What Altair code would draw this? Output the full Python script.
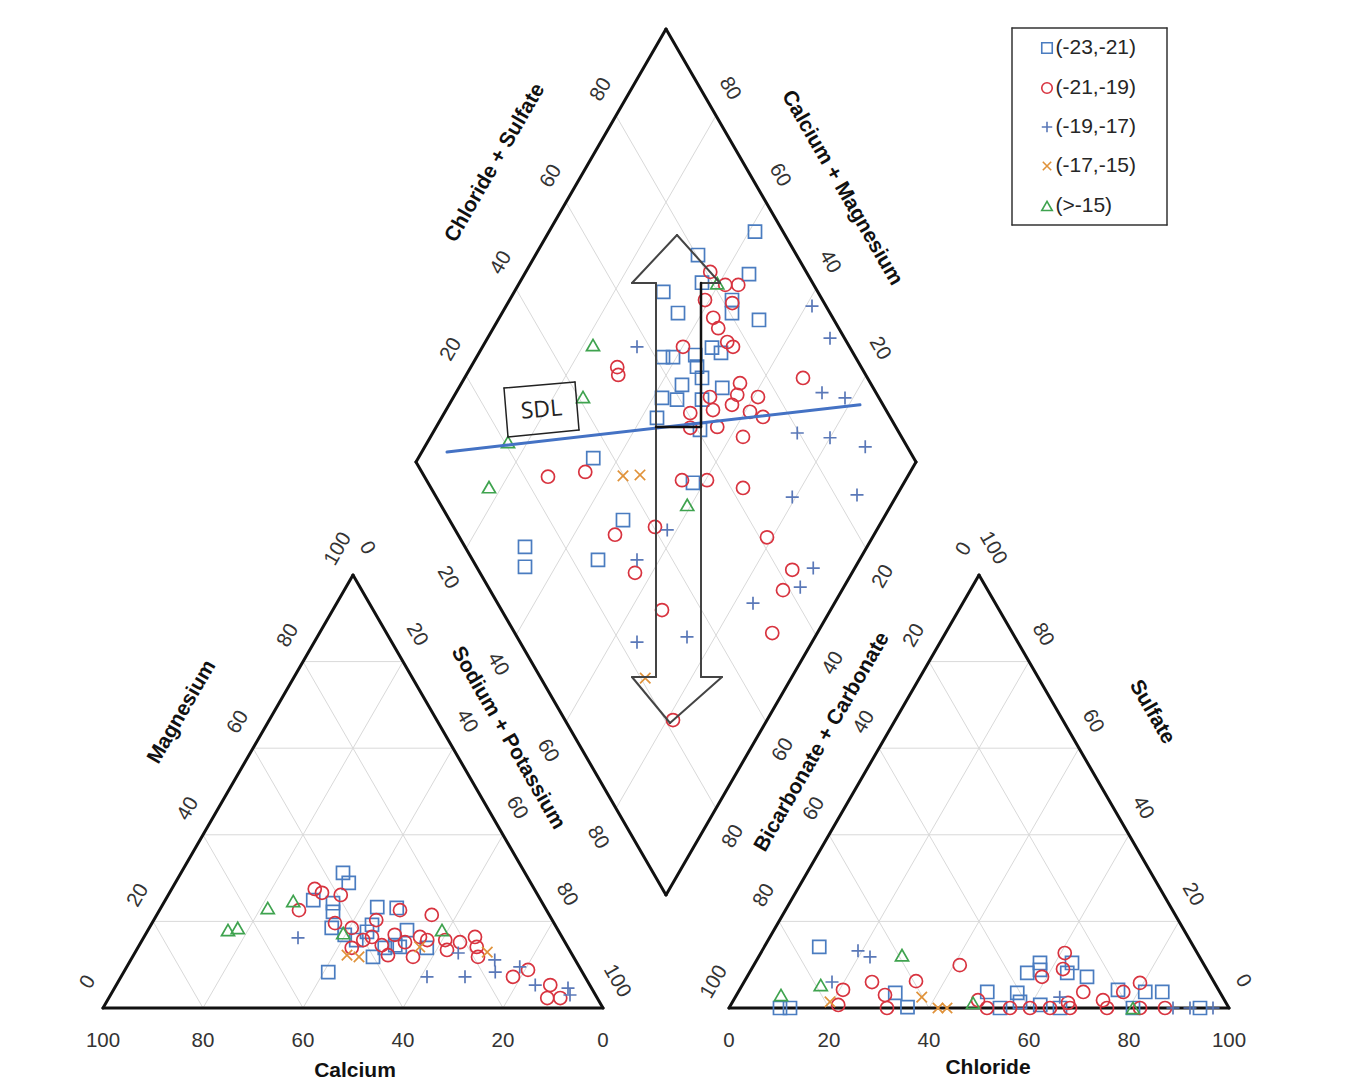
import altair as alt
import numpy as np
import pandas as pd

# ---------------- data (percent values) ----------------
GROUPS = ["(-23,-21)", "(-21,-19)", "(-19,-17)", "(-17,-15)", "(>-15)"]
COLORS = ["#4a7cc0", "#d8333f", "#5a78b8", "#e0923a", "#3fa34f"]
PLUS_PATH = "M-1,0L1,0M0,-1L0,1"
X_PATH = "M-0.8,-0.8L0.8,0.8M-0.8,0.8L0.8,-0.8"
SHAPES = ["square", "circle", PLUS_PATH, X_PATH, "triangle-up"]

# cation triangle: (Calcium %, Magnesium %)
cat_sq = [(36.4, 31.2), (36.4, 28.9), (45.5, 24.9), (41.9, 24.2), (42.9, 22.2), (45, 18.5),
          (33.5, 23.3), (36.6, 19.2), (29.7, 23.1), (50.8, 8.3), (40.1, 11.8), (38.4, 17.6),
          (30.2, 18), (33.6, 14.1), (28.3, 13.9), (34.3, 14.5), (41.5, 15.7), (36.7, 13.9),
          (43.2, 16.9)]
cat_ci = [(49.5, 22.6), (43.9, 27.5), (42.9, 26.6), (39.4, 26.1), (43.8, 19.6), (41, 18.5),
          (35.2, 20.3), (40.1, 15.7), (36.9, 12.2), (43.3, 13.9), (29.3, 22.6), (23.5, 21.5),
          (32.1, 11.8), (33.2, 16.9), (28.4, 16.4), (27.3, 15.7), (23.7, 15.7), (24.5, 13.4),
          (21, 15.2), (17.4, 16.4), (18.2, 14.1), (19.1, 11.8), (14.4, 7.2), (10.6, 8.8),
          (7.9, 5.3), (10, 2.3), (7.4, 2.3), (38, 16.4), (32, 15.2), (37, 14.5)]
cat_pl = [(52.9, 16.2), (31.6, 7.2), (24, 7.2), (16.1, 11.1), (17.4, 8.3), (11.9, 9.5),
          (10.9, 5.3), (4.7, 4.6), (5.1, 3), (22.6, 12.7)]
cat_x = [(45.1, 12.2), (42.9, 11.8), (16.7, 12.9), (29.6, 14.1)]
cat_tr = [(66, 18), (63.8, 18.5), (55.5, 23.1), (49.6, 24.7), (43.3, 17.3), (23.2, 18)]

# anion triangle: (Chloride %, Sulfate %)
an_sq = [(11, 14.1), (10.2, 0), (12.2, 0), (31.5, 3.5), (35.6, 0.2), (55.6, 8.1), (57, 10.4),
         (57.8, 8.8), (63.4, 10.4), (63.6, 8.1), (68, 7.2), (49.8, 3.7), (55.9, 3.5),
         (75.7, 4.2), (81.4, 3.7), (84.8, 3.7), (57.5, 1.4), (61.9, 0.7), (80.8, 0),
         (94.2, 0), (54.2, 0), (66.2, 0)]
an_ci = [(20.7, 4.2), (25.6, 6), (34.3, 6.2), (41.2, 9.9), (21.5, 0.7), (29.7, 3), (31.6, 0),
         (60.8, 12.7), (62.3, 9), (59, 7.2), (79.3, 5.8), (77, 3.7), (69, 3.7), (48.9, 1.8),
         (51.6, 0), (56.2, 0), (60.2, 0), (64.2, 0), (67.2, 1.2), (68.2, 0), (73.9, 1.8),
         (75.6, 0), (82.2, 0), (87.2, 0)]
an_pl = [(19.2, 13.2), (22.3, 11.8), (17.6, 6), (88.8, 0), (92.2, 0), (96.8, 0), (64.9, 2.5)]
an_x = [(19.5, 1.4), (37.3, 2.5), (43.6, 0), (41.8, 0)]
an_tr = [(28.5, 12.2), (8.9, 3), (15.7, 5.3), (48.2, 1.2), (80.8, 0)]

# diamond: (Sodium+Potassium %, Chloride+Sulfate %)
dm_sq = [(41.2, 94.4), (32.5, 80.3), (44.9, 88.3), (29.8, 69.1), (36.5, 77.9), (44.5, 81.9),
         (35.2, 69.6), (46, 80.4), (52.2, 85), (46, 72.4), (48.4, 73.6), (39.3, 63.5),
         (43.5, 68.2), (45.2, 67.2), (47.5, 66.9), (44.3, 62.1), (52.7, 69.8), (41.8, 56.6),
         (45, 59.4), (50, 64.4), (43.1, 53.3), (53.1, 60.5), (57.8, 53), (37.3, 61.5),
         (35, 35.9), (31.6, 12), (33.9, 9.7), (47.7, 25.1), (48.1, 34.7)]
dm_ci = [(36.9, 80.8), (41.4, 82.3), (44, 84.9), (39.1, 76.5), (44.9, 81.6), (42.8, 76.1),
         (45, 75.9), (48.4, 76.1), (50.1, 76.7), (40.1, 66.7), (55.7, 73.9), (56.5, 72),
         (60.9, 75.9), (51.3, 66.3), (56.6, 69.8), (53.4, 65.4), (61, 72.6), (64.2, 74.6),
         (49.2, 60.5), (56.2, 64.3), (50.9, 58.8), (62.5, 68.3), (67.7, 87.1), (55.3, 51.1),
         (60.3, 56.1), (68.4, 62.4), (29.3, 51.2), (30.4, 50.5), (28.1, 24.7), (35, 32.7),
         (48.2, 31.4), (55.3, 40.3), (56.6, 31), (66.3, 32.1), (81.2, 21.6), (78.9, 61.5),
         (87.7, 62.8), (88.2, 58.6), (91, 51.5)]
dm_pl = [(61.2, 97.2), (68.5, 97.1), (73.2, 89.2), (78.4, 93.2), (72.9, 79.6), (80, 85.6),
         (88.1, 91.6), (79.3, 71.2), (92, 84.4), (30.9, 57.5), (55.5, 32.9), (65, 23.4),
         (58.1, 42.4), (91.7, 67.2), (91.3, 62.4), (83.7, 51.1), (74.4, 34)]
dm_x = [(43, 39.8), (46.3, 43.3), (70.8, 20.9)]
dm_tr = [(21.9, 48.9), (25.9, 40.9), (16.1, 20.7), (17.5, 11.7), (39.6, 80.9), (59.2, 49.3)]

TICKS = [0, 20, 40, 60, 80, 100]
DTICKS = [20, 40, 60, 80]

# SDL line end points in diamond coordinates (Na+K %, Cl+SO4 %)
SDL_LINE = [(5.05, 7.35), (82.2, 95.4)]

# ---------------- geometry ----------------
S3 = np.sqrt(3) / 2
GAP = 25.2
AX0 = 100 + GAP
BX, BY = 100 + GAP / 2, 22.6
LX, LY = BX - 50, BY + 100 * S3


def cat_xy(ca, mg):
    return 100 - ca - mg / 2, mg * S3


def an_xy(cl, so4):
    return AX0 + cl + so4 / 2, so4 * S3


def dm_xy(n, a):
    return LX + 0.5 * n + 0.5 * a, LY - S3 * n + S3 * a


# ---------------- build tables ----------------
pts = []
for g, (c, a, d) in enumerate([(cat_sq, an_sq, dm_sq), (cat_ci, an_ci, dm_ci),
                              (cat_pl, an_pl, dm_pl), (cat_x, an_x, dm_x),
                              (cat_tr, an_tr, dm_tr)]):
    for v in c:
        x, y = cat_xy(*v)
        pts.append({"x": x, "y": y, "g": GROUPS[g]})
    for v in a:
        x, y = an_xy(*v)
        pts.append({"x": x, "y": y, "g": GROUPS[g]})
    for v in d:
        x, y = dm_xy(*v)
        pts.append({"x": x, "y": y, "g": GROUPS[g]})
pts = pd.DataFrame(pts)


def seg(p, q):
    return {"x": p[0], "y": p[1], "x2": q[0], "y2": q[1]}


def poly(vs):
    return [seg(vs[i], vs[(i + 1) % len(vs)]) for i in range(len(vs))]


outline = []
outline += poly([cat_xy(100, 0), cat_xy(0, 0), cat_xy(0, 100)])
outline += poly([an_xy(0, 0), an_xy(100, 0), an_xy(0, 100)])
outline += poly([dm_xy(0, 0), dm_xy(0, 100), dm_xy(100, 100), dm_xy(100, 0)])
outline = pd.DataFrame(outline)

grid = []
for k in DTICKS:
    grid.append(seg(cat_xy(100 - k, k), cat_xy(0, k)))
    grid.append(seg(cat_xy(k, 0), cat_xy(k, 100 - k)))
    grid.append(seg(cat_xy(100 - k, 0), cat_xy(0, 100 - k)))
    grid.append(seg(an_xy(0, k), an_xy(100 - k, k)))
    grid.append(seg(an_xy(k, 0), an_xy(k, 100 - k)))
    grid.append(seg(an_xy(100 - k, 0), an_xy(0, 100 - k)))
    grid.append(seg(dm_xy(k, 0), dm_xy(k, 100)))
    grid.append(seg(dm_xy(0, k), dm_xy(100, k)))
grid = pd.DataFrame(grid)

sdl = pd.DataFrame([seg(dm_xy(*SDL_LINE[0]), dm_xy(*SDL_LINE[1]))])

# annotation shapes (chart units)
ARROW = [(114.8, 154.6), (123.4, 145), (119.6, 145), (119.6, 66.2), (123.8, 66.2),
         (113.4, 57), (105.8, 66.2), (110.6, 66.2), (110.6, 145), (105.8, 145)]
arrow = pd.DataFrame(poly(ARROW))
arrow_mid = pd.DataFrame([seg((110.6, 116.2), (119.6, 116.2)), seg((119.6, 145), (119.6, 116.2))])
SDL_BOX = [(80.2, 124), (94.4, 125.2), (95.2, 115.6), (81, 114.2)]
sdlbox = pd.DataFrame(poly(SDL_BOX))
LEG_BOX = [(181.8, 196), (212.8, 196), (212.8, 156.6), (181.8, 156.6)]
legbox = pd.DataFrame(poly(LEG_BOX))
LEG_Y = [192, 184, 176.2, 168.4, 160.4]
leg_pts = pd.DataFrame({"x": [188.8] * 5, "y": LEG_Y, "g": GROUPS})
leg_txt = pd.DataFrame({"x": [190.5] * 5, "y": LEG_Y, "t": GROUPS})

# tick labels
labs = []
for v in TICKS:
    x, y = cat_xy(v, 0)
    labs.append((x, -6.6, v, 0))
    x, y = cat_xy(100 - v, v)
    labs.append((x - 3, y + 5.2, v, 300))
    x, y = cat_xy(0, 100 - v)
    labs.append((x + 2.8, y + 5.4, v, 60))
    x, y = an_xy(v, 0)
    labs.append((x, -6.6, v, 0))
    x, y = an_xy(100 - v, v)
    labs.append((x + 2.8, y + 5.4, v, 60))
    x, y = an_xy(0, 100 - v)
    labs.append((x - 3, y + 5.2, v, 300))
for v in DTICKS:
    x, y = dm_xy(0, v)
    labs.append((x - 3, y + 5.2, v, 300))
    x, y = dm_xy(100 - v, 100)
    labs.append((x + 2.8, y + 5.4, v, 60))
    x, y = dm_xy(v, 0)
    labs.append((x - 3.6, y - 5.8, v, 60))
    x, y = dm_xy(100, 100 - v)
    labs.append((x + 3.4, y - 5.6, v, 300))
labs = pd.DataFrame(labs, columns=["x", "y", "t", "ang"])
labs["t"] = labs["t"].astype(str)

titles = pd.DataFrame([
    (50.4, -12.6, "Calcium", 0),
    (177.0, -12.0, "Chloride", 0),
    (15.8, 59.2, "Magnesium", 300),
    (81.0, 54.0, "Sodium + Potassium", 60),
    (143.8, 53.2, "Bicarbonate + Carbonate", 300),
    (209.8, 59.2, "Sulfate", 60),
    (78.4, 169.0, "Chloride + Sulfate", 300),
    (147.8, 164.0, "Calcium + Magnesium", 60),
], columns=["x", "y", "t", "ang"])

# ---------------- chart ----------------
XS = alt.Scale(domain=[-20.6, 249.4], nice=False, zero=False)
YS = alt.Scale(domain=[-14.4, 201.6], nice=False, zero=False)


def X(f="x"):
    return alt.X(f + ":Q", scale=XS, axis=None)


def Y(f="y"):
    return alt.Y(f + ":Q", scale=YS, axis=None)


def rules(df, color, width):
    return alt.Chart(df).mark_rule(color=color, strokeWidth=width, strokeCap="round").encode(
        x=X(), y=Y(), x2="x2:Q", y2="y2:Q")


shape_enc = alt.Shape("g:N", scale=alt.Scale(domain=GROUPS, range=SHAPES), legend=None)
color_enc = alt.Color("g:N", scale=alt.Scale(domain=GROUPS, range=COLORS), legend=None)

points = alt.Chart(pts).mark_point(filled=False, size=170, strokeWidth=1.7, opacity=1).encode(
    x=X(), y=Y(), shape=shape_enc, color=color_enc)

legend_pts = alt.Chart(leg_pts).mark_point(filled=False, size=110, strokeWidth=1.6, opacity=1).encode(
    x=X(), y=Y(), shape=shape_enc, color=color_enc)
legend_txt = alt.Chart(leg_txt).mark_text(align="left", baseline="middle", fontSize=21,
                                          font="Liberation Sans", color="#262626").encode(
    x=X(), y=Y(), text="t:N")

ticklabels = alt.Chart(labs).mark_text(align="center", baseline="middle", fontSize=20.5,
                                       font="Liberation Sans", color="#333333").encode(
    x=X(), y=Y(), text="t:N", angle=alt.Angle("ang:Q", scale=None))
titletext = alt.Chart(titles).mark_text(align="center", baseline="middle", fontSize=21,
                                        fontWeight="bold", font="Liberation Sans",
                                        color="#111111").encode(
    x=X(), y=Y(), text="t:N", angle=alt.Angle("ang:Q", scale=None))

sdl_label = alt.Chart(pd.DataFrame({"x": [87.7], "y": [119.6], "t": ["SDL"]})).mark_text(
    align="center", baseline="middle", fontSize=23, font="Open Sans", angle=355,
    color="#222222").encode(x=X(), y=Y(), text="t:N")

chart = alt.layer(
    rules(grid, "#d9d9d9", 1),
    rules(outline, "#111111", 3),
    points,
    rules(sdl, "#4472c4", 3),
    rules(arrow, "#444444", 2),
    rules(arrow_mid, "#111111", 2.5),
    rules(sdlbox, "#222222", 1.5),
    sdl_label,
    rules(legbox, "#333333", 1.5),
    legend_pts,
    legend_txt,
    ticklabels,
    titletext,
).properties(
    width=1350, height=1080, padding=0,
    autosize=alt.AutoSizeParams(type="none"),
    background="white",
).configure_view(strokeWidth=0)

chart.save("out.html", embed_options={"renderer": "svg", "actions": False})
